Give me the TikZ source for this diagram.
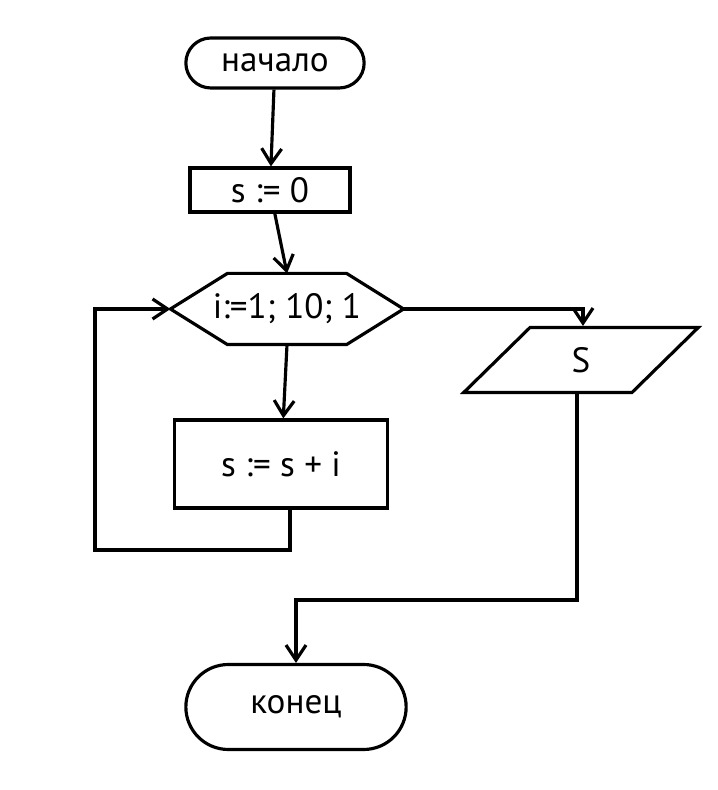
\documentclass[tikz,border=0pt]{standalone}
\usepackage{fontspec}
\setmainfont{PT Sans}
\usetikzlibrary{arrows.meta, positioning, shapes.geometric, shapes.misc}

\begin{document}
\begin{tikzpicture}[
    font=\fontsize{20}{24}\selectfont,
    line width=1.8pt,
    term/.style={rounded rectangle, draw, align=center},
    proc/.style={rectangle, draw, align=center},
    io/.style={trapezium, trapezium left angle=62, trapezium right angle=118, trapezium stretches=true, draw, align=center},
    arrow/.style={-{Straight Barb[length=3mm, width=4mm]}},
]
\useasboundingbox (0,0) rectangle (14.34,15.8);

% Blocks
\node[term, minimum width=3.8cm, minimum height=1.0cm] (start) at (5.50,14.54) {начало};
\node[proc, minimum width=3.2cm, minimum height=0.88cm] (init) at (5.40,12.00) {s := 0};
\node[minimum width=4.6cm, minimum height=1.36cm] (loop) at (5.74,9.62) {i:=1; 10; 1};
\node[proc, minimum width=4.26cm, minimum height=1.76cm] (body) at (5.62,6.52) {s := s + i};
\node[io, minimum width=4.7cm, minimum height=1.3cm] (out) at (11.62,8.60) {S};
\node[term, minimum width=4.64cm, minimum height=1.7cm] (stop) at (5.92,1.66) {конец};

% Loop header (hexagon)
\draw (loop.west) -- ([xshift=1.14cm]loop.north west) -- ([xshift=-1.14cm]loop.north east)
    -- (loop.east) -- ([xshift=-1.14cm]loop.south east) -- ([xshift=1.14cm]loop.south west) -- cycle;

% Corner points
\coordinate (back1) at (5.80,4.80);
\coordinate (back2) at (1.90,4.80);
\coordinate (back3) at (1.90,9.62);
\coordinate (exit1) at (11.66,9.62);
\coordinate (join1) at (11.54,3.80);
\coordinate (join2) at (5.92,3.80);

% Main flow
\draw[arrow] (start) -- (init);
\draw[arrow] (init) -- (loop.north);
\draw[arrow] (loop.south) -- (body);

% Back to loop header
\draw[arrow] (body.south -| back1) -- (back1) -- (back2) -- (back3) -- (loop.west);

% Exit of the loop
\draw[arrow] (loop.east) -- (exit1) -- (exit1 |- out.north);
\draw[arrow] (out.south -| join1) -- (join1) -- (join2) -- (stop.north);

\end{tikzpicture}
\end{document}
